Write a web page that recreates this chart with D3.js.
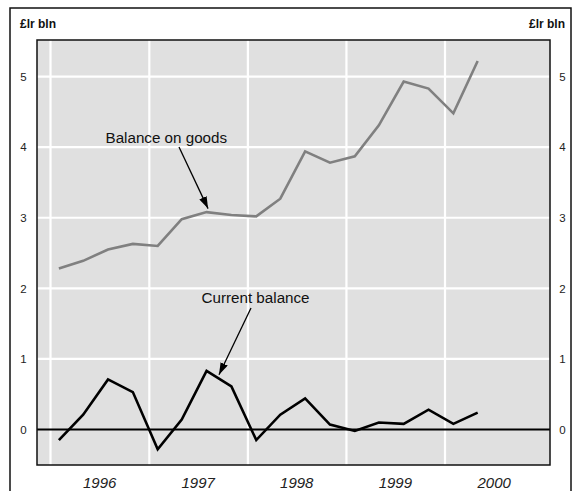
<!DOCTYPE html>
<html>
<head>
<meta charset="utf-8">
<script src="https://cdn.jsdelivr.net/npm/d3@7"></script>
<style>
  body { margin: 0; background: #fff; }
  svg { display: block; font-family: "Liberation Sans", Arial, sans-serif; }
</style>
</head>
<body>
<svg id="chart" width="576" height="491"></svg>
<script>
// ---- data ----
const dates = ["1996-02","1996-05","1996-08","1996-11",
               "1997-02","1997-05","1997-08","1997-11",
               "1998-02","1998-05","1998-08","1998-11",
               "1999-02","1999-05","1999-08","1999-11",
               "2000-02","2000-05"];
const goodsBalance = [2.28, 2.39, 2.55, 2.63, 2.60, 2.98, 3.08, 3.04, 3.02,
                      3.27, 3.94, 3.78, 3.87, 4.31, 4.93, 4.83, 4.48, 5.22];
const currentBalance = [-0.15, 0.21, 0.71, 0.53, -0.28, 0.14, 0.83, 0.61, -0.15,
                        0.21, 0.44, 0.07, -0.02, 0.10, 0.08, 0.28, 0.08, 0.24];
const yearTicks = [1996, 1997, 1998, 1999, 2000];
const yTicks = [0, 1, 2, 3, 4, 5];
const unitLabel = "£lr bln";

// ---- layout ----
const svg = d3.select("#chart");
const plot = { left: 37, top: 40, right: 550, bottom: 465 };
const parse = d3.timeParse("%Y-%m");
const pts = dates.map(parse);

const x = d3.scaleTime()
  .domain([new Date(1996, 0, 1), new Date(2000, 0, 1)])
  .range([50.5, 445]);
const y = d3.scaleLinear().domain([0, 5]).range([429.5, 76.6]);

// outer frame
svg.append("rect")
  .attr("x", 10).attr("y", 8).attr("width", 561).attr("height", 520)
  .attr("fill", "none").attr("stroke", "#111").attr("stroke-width", 1.5);

// plot background
svg.append("rect")
  .attr("x", plot.left).attr("y", plot.top)
  .attr("width", plot.right - plot.left).attr("height", plot.bottom - plot.top)
  .attr("fill", "#e0e0e0");

svg.append("clipPath").attr("id", "clip").append("rect")
  .attr("x", plot.left).attr("y", plot.top)
  .attr("width", plot.right - plot.left).attr("height", plot.bottom - plot.top);

const g = svg.append("g").attr("clip-path", "url(#clip)");

// vertical gridlines at year starts
g.selectAll("line.vg").data(yearTicks).join("line")
  .attr("class", "vg")
  .attr("x1", d => x(new Date(d, 0, 1))).attr("x2", d => x(new Date(d, 0, 1)))
  .attr("y1", plot.top).attr("y2", plot.bottom)
  .attr("stroke", "#fff").attr("stroke-width", 2.2);

// horizontal gridlines
g.selectAll("line.hg").data(yTicks.filter(d => d !== 0)).join("line")
  .attr("class", "hg")
  .attr("x1", plot.left).attr("x2", plot.right)
  .attr("y1", d => y(d)).attr("y2", d => y(d))
  .attr("stroke", "#fff").attr("stroke-width", 2.2);

// zero line
g.append("line")
  .attr("x1", plot.left).attr("x2", plot.right)
  .attr("y1", y(0)).attr("y2", y(0))
  .attr("stroke", "#000").attr("stroke-width", 2);

const line = d3.line().x((d, i) => x(pts[i])).y(d => y(d));

g.append("path").datum(goodsBalance)
  .attr("d", line).attr("fill", "none")
  .attr("stroke", "#808080").attr("stroke-width", 2.6)
  .attr("stroke-linejoin", "miter");

g.append("path").datum(currentBalance)
  .attr("d", line).attr("fill", "none")
  .attr("stroke", "#000").attr("stroke-width", 2.6)
  .attr("stroke-linejoin", "miter");

// plot border
svg.append("rect")
  .attr("x", plot.left).attr("y", plot.top)
  .attr("width", plot.right - plot.left).attr("height", plot.bottom - plot.top)
  .attr("fill", "none").attr("stroke", "#111").attr("stroke-width", 1.5);

// y axis labels, left and right
const fmt = d3.format("d");
const yAxisL = d3.axisLeft(y).tickValues(yTicks).tickFormat(fmt).tickSize(0).tickPadding(0);
const yAxisR = d3.axisRight(y).tickValues(yTicks).tickFormat(fmt).tickSize(0).tickPadding(0);
const gl = svg.append("g").attr("transform", "translate(23.5,0)").call(yAxisL);
const gr = svg.append("g").attr("transform", "translate(562.5,0)").call(yAxisR);
[gl, gr].forEach(a => {
  a.select(".domain").remove();
  a.selectAll("text").attr("font-size", 11.5).attr("fill", "#222")
    .attr("text-anchor", "middle")
    .attr("font-family", "Liberation Sans, Arial, sans-serif");
});

// year labels, centred in each year
svg.selectAll("text.yr").data(yearTicks).join("text")
  .attr("class", "yr")
  .attr("x", d => x(new Date(d, 6, 1)))
  .attr("y", 488)
  .attr("text-anchor", "middle")
  .attr("font-size", 15).attr("font-style", "italic").attr("fill", "#222")
  .text(d => d);

// unit labels
svg.append("text").attr("x", 20).attr("y", 28)
  .attr("font-size", 12).attr("font-weight", "bold").attr("fill", "#111")
  .text(unitLabel);
svg.append("text").attr("x", 565).attr("y", 28).attr("text-anchor", "end")
  .attr("font-size", 12).attr("font-weight", "bold").attr("fill", "#111")
  .text(unitLabel);

// annotations
svg.append("defs").append("marker")
  .attr("id", "arrow").attr("viewBox", "0 0 12 8")
  .attr("refX", 12).attr("refY", 4)
  .attr("markerWidth", 12).attr("markerHeight", 8)
  .attr("markerUnits", "userSpaceOnUse")
  .attr("orient", "auto")
  .append("path").attr("d", "M0,0 L12,4 L0,8 Z").attr("fill", "#000");

function annotate(label, tx, ty, sx, sy, ex, ey) {
  svg.append("text").attr("x", tx).attr("y", ty)
    .attr("font-size", 15.2).attr("fill", "#111").text(label);
  svg.append("line")
    .attr("x1", sx).attr("y1", sy).attr("x2", ex).attr("y2", ey)
    .attr("stroke", "#000").attr("stroke-width", 1.3)
    .attr("marker-end", "url(#arrow)");
}

const gi = 6; // goods balance annotation point
annotate("Balance on goods", 105.5, 143,
  179, 147, x(pts[gi]) + 1.5, y(goodsBalance[gi]) - 3.5);

const ci = 6; // current balance annotation point (on segment after it)
const cx0 = x(pts[ci]), cy0 = y(currentBalance[ci]);
const cx1 = x(pts[ci + 1]), cy1 = y(currentBalance[ci + 1]);
annotate("Current balance", 201.5, 303,
  251, 308, cx0 + (cx1 - cx0) * 0.5, cy0 + (cy1 - cy0) * 0.5 - 4);
</script>
</body>
</html>
